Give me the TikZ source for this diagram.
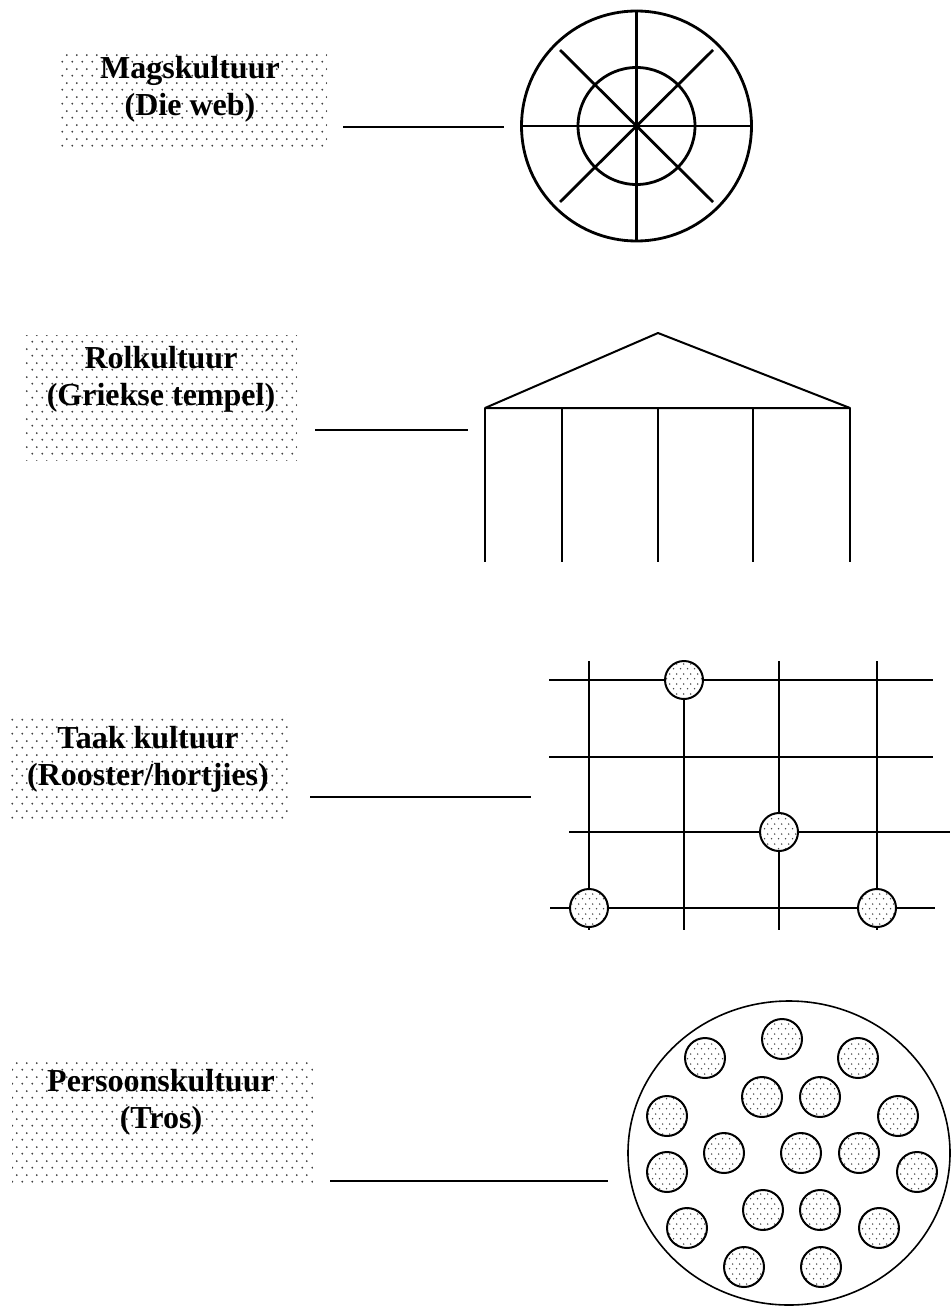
\documentclass[tikz,border=0pt]{standalone}
\usepackage{fontspec}
\setmainfont{Liberation Serif}
\usetikzlibrary{patterns,shapes.geometric}
\pgfdeclarepatternformonly{boxdots}{\pgfqpoint{0pt}{0pt}}{\pgfqpoint{5pt}{7pt}}{\pgfqpoint{5pt}{7pt}}{%
  \pgfpathcircle{\pgfqpoint{1.25pt}{1.75pt}}{0.55pt}%
  \pgfpathcircle{\pgfqpoint{3.75pt}{5.25pt}}{0.55pt}%
  \pgfusepath{fill}}
\pgfdeclarepatternformonly{balldots}{\pgfqpoint{0pt}{0pt}}{\pgfqpoint{3.5pt}{5pt}}{\pgfqpoint{3.5pt}{5pt}}{%
  \pgfpathcircle{\pgfqpoint{0.875pt}{1.25pt}}{0.45pt}%
  \pgfpathcircle{\pgfqpoint{2.625pt}{3.75pt}}{0.45pt}%
  \pgfusepath{fill}}
\begin{document}
\begin{tikzpicture}[x=0.5pt,y=-0.5pt,
  lbl/.style={font=\bfseries\fontsize{16}{18.5}\selectfont, align=center, anchor=base, inner sep=0pt},
  dotbox/.style={rectangle, draw=none, pattern=boxdots, pattern color=black!75, inner sep=0pt},
  ball/.style={circle, draw, line width=1pt, preaction={fill=white}, pattern=balldots, pattern color=black!70, inner sep=0pt, minimum size=20pt},
  gball/.style={ball, minimum size=19pt},
  conn/.style={line width=1pt},
  thin/.style={line width=1pt},
  thick/.style={line width=1.4pt}]
\useasboundingbox (0,0) rectangle (951,1311);

% ---------- label boxes ----------
\node[dotbox, minimum width=134.5pt, minimum height=49pt] (b1) at (192.5,101) {};
\node[lbl] (t1) at (190,116) {Magskultuur\\(Die web)};
\node[dotbox, minimum width=136pt, minimum height=62.5pt] (b2) at (161,397.5) {};
\node[lbl] (t2) at (161,405) {Rolkultuur\\(Griekse tempel)};
\node[dotbox, minimum width=140pt, minimum height=53pt] (b3) at (148,767) {};
\node[lbl] (t3) at (148,785) {Taak kultuur\\(Rooster/hortjies)};
\node[dotbox, minimum width=150.5pt, minimum height=60pt] (b4) at (162.5,1122) {};
\node[lbl] (t4) at (161,1128) {Persoonskultuur\\(Tros)};

% ---------- web ----------
\node[circle, draw, thick, minimum size=115pt, inner sep=0pt] (web) at (636.5,126) {};
\node[circle, draw, thick, minimum size=58.5pt, inner sep=0pt] (webin) at (636.5,126) {};
\draw[thick] (web.north) -- (web.south);
\draw[thick] (web.west) -- (web.east);
\coordinate (d1) at (560,50);
\coordinate (d2) at (713,202);
\coordinate (d3) at (713,50);
\coordinate (d4) at (560,202);
\draw[thick] (d1) -- (d2);
\draw[thick] (d3) -- (d4);
\coordinate (c1a) at (343,127);
\coordinate (c1b) at (504,127);
\draw[conn] (c1a) -- (c1b);

% ---------- temple ----------
\coordinate (apex) at (658,333);
\coordinate (tl) at (485,408);
\coordinate (tr) at (850,408);
\draw[thin, line join=round] (tl) -- (apex) -- (tr) -- cycle;
\foreach \cx in {485,562,658,753,850}{
  \draw[thin] (\cx,408) -- (\cx,562);
}
\coordinate (c2a) at (315,430);
\coordinate (c2b) at (468,430);
\draw[conn] (c2a) -- (c2b);

% ---------- grid ----------
\draw[thin] (549,680) -- (933,680);
\draw[thin] (549,757) -- (933,757);
\draw[thin] (569,832) -- (950,832);
\draw[thin] (550,908) -- (935,908);
\draw[thin] (589,661) -- (589,930);
\draw[thin] (684,680) -- (684,930);
\draw[thin] (779,661) -- (779,930);
\draw[thin] (877,661) -- (877,930);
\node[gball] (g1) at (684,680) {};
\node[gball] (g2) at (779,832) {};
\node[gball] (g3) at (589,908) {};
\node[gball] (g4) at (877,908) {};
\coordinate (c3a) at (310,797);
\coordinate (c3b) at (531,797);
\draw[conn] (c3a) -- (c3b);

% ---------- cluster ----------
\node[ellipse, draw, line width=0.8pt, minimum width=161pt, minimum height=152pt, inner sep=0pt] (tros) at (789,1153) {};
\foreach \px/\py [count=\i] in {782/1039, 705/1058, 858/1058, 762/1097, 820/1097,
   667/1116, 898/1116, 724/1153, 801/1153, 859/1153, 667/1172, 917/1172,
   763/1210, 820/1210, 687/1228, 879/1228, 744/1267, 821/1267}{
  \node[ball] (p\i) at (\px,\py) {};
}
\coordinate (c4a) at (330,1181);
\coordinate (c4b) at (608,1181);
\draw[conn] (c4a) -- (c4b);
\end{tikzpicture}
\end{document}
